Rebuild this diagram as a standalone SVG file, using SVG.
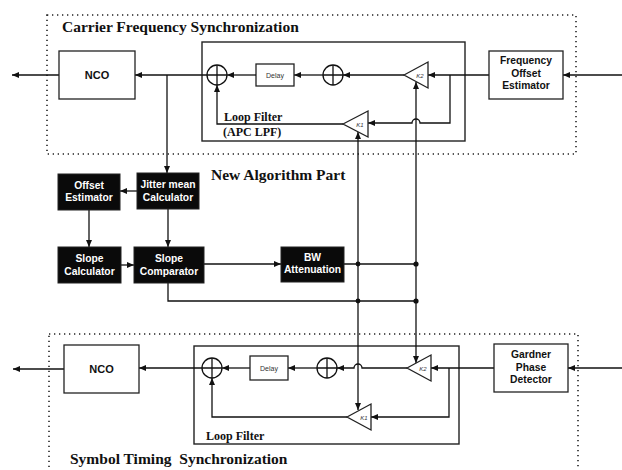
<svg xmlns="http://www.w3.org/2000/svg" width="622" height="470" viewBox="0 0 622 470">
<defs>
<marker id="ah" markerUnits="userSpaceOnUse" markerWidth="7" markerHeight="6" refX="7" refY="3" orient="auto-start-reverse">
<path d="M0,0 L7,3 L0,6 z" fill="#111"/>
</marker>
<style>
.ln{fill:none;stroke:#111;stroke-width:1.3}
.box{fill:#fff;stroke:#222;stroke-width:1.3}
.blk{fill:#0a0a0a;stroke:#222;stroke-width:1}
.dot{fill:none;stroke:#222;stroke-width:1.6;stroke-dasharray:1.3 3.7}
.inner{fill:none;stroke:#222;stroke-width:1.4}
.title{font-family:"Liberation Serif","Times New Roman",serif;font-weight:bold;font-size:15.5px;fill:#111}
.lf{font-family:"Liberation Serif","Times New Roman",serif;font-weight:bold;font-size:12px;fill:#111}
.t{font-family:"Liberation Sans",Arial,sans-serif;font-weight:bold;font-size:10.3px;fill:#111;text-anchor:middle}
.tw{font-family:"Liberation Sans",Arial,sans-serif;font-weight:bold;font-size:10.3px;fill:#fff;text-anchor:middle}
.nco{font-family:"Liberation Sans",Arial,sans-serif;font-weight:bold;font-size:11px;fill:#111;text-anchor:middle}
.sm{font-family:"Liberation Sans",Arial,sans-serif;font-size:7px;fill:#333;text-anchor:middle}
.k{font-family:"Liberation Sans",Arial,sans-serif;font-style:italic;font-size:6px;fill:#333;text-anchor:middle}
.adder{fill:#fff;stroke:#111;stroke-width:1.3}
.jd{fill:#111}
</style>
</defs>
<rect width="622" height="470" fill="#fff"/>

<!-- regions -->
<g id="carrier-region">
<rect class="dot" x="47" y="15" width="529" height="139"/>
<text class="title" x="62" y="32">Carrier Frequency Synchronization</text>
<rect class="inner" x="202" y="42" width="263" height="99"/>
<text class="lf" x="224" y="121">Loop Filter</text>
<text class="lf" x="223" y="136">(APC LPF)</text>
</g>
<g id="symbol-region">
<rect class="dot" x="49" y="334" width="529" height="150"/>
<text class="title" x="70" y="464" xml:space="preserve">Symbol Timing  Synchronization</text>
<rect class="inner" x="194" y="346" width="265" height="98"/>
<text class="lf" x="206" y="440">Loop Filter</text>
</g>
<g id="new-algorithm-label">
<text class="title" x="211" y="180">New Algorithm Part</text>
</g>

<!-- connectors -->
<g id="connectors">
<!-- top -->
<path class="ln" d="M59,75 L12,75" marker-end="url(#ah)"/>
<path class="ln" d="M207,75 L135,75" marker-end="url(#ah)"/>
<path class="ln" d="M167,75 L167,173" marker-end="url(#ah)"/>
<path class="ln" d="M256,75 L227,75" marker-end="url(#ah)"/>
<path class="ln" d="M323,75 L294,75" marker-end="url(#ah)"/>
<path class="ln" d="M404,75 L343,75" marker-end="url(#ah)"/>
<path class="ln" d="M489,75 L428,75" marker-end="url(#ah)"/>
<path class="ln" d="M622,75 L563,75" marker-end="url(#ah)"/>
<path class="ln" d="M450,75 L450,123 L420,123 A4,4 0 0 0 412,123 L368,123" marker-end="url(#ah)"/>
<path class="ln" d="M343,124 L217,124 L217,85" marker-end="url(#ah)"/>
<!-- shared verticals -->
<path class="ln" d="M358,132 L358,410" marker-start="url(#ah)" marker-end="url(#ah)"/>
<path class="ln" d="M416,82 L416,363" marker-start="url(#ah)" marker-end="url(#ah)"/>
<!-- new algorithm -->
<path class="ln" d="M137,191 L120,191" marker-end="url(#ah)"/>
<path class="ln" d="M89,210 L89,247" marker-end="url(#ah)"/>
<path class="ln" d="M168,209 L168,247" marker-end="url(#ah)"/>
<path class="ln" d="M121,265 L134,265" marker-end="url(#ah)"/>
<path class="ln" d="M204,264 L281,264" marker-end="url(#ah)"/>
<path class="ln" d="M344,264 L416,264"/>
<path class="ln" d="M168,283 L168,301 L416,301"/>
<circle class="jd" cx="358" cy="264" r="2.4"/>
<circle class="jd" cx="416" cy="264" r="2.6"/>
<circle class="jd" cx="358" cy="301" r="2.4"/>
<circle class="jd" cx="416" cy="301" r="2.6"/>
<!-- bottom -->
<path class="ln" d="M64,369 L13,369" marker-end="url(#ah)"/>
<path class="ln" d="M202,368 L139,368" marker-end="url(#ah)"/>
<path class="ln" d="M250,368 L222,368" marker-end="url(#ah)"/>
<path class="ln" d="M317,368 L288,368" marker-end="url(#ah)"/>
<path class="ln" d="M407,368 L362,368 A4,4 0 0 0 354,368 L337,368" marker-end="url(#ah)"/>
<path class="ln" d="M494,368 L431,368" marker-end="url(#ah)"/>
<path class="ln" d="M622,368 L568,368" marker-end="url(#ah)"/>
<path class="ln" d="M449,368 L449,417 L371,417" marker-end="url(#ah)"/>
<path class="ln" d="M347,417 L212,417 L212,378" marker-end="url(#ah)"/>
</g>

<!-- top nodes -->
<g id="nco-top"><rect class="box" x="59" y="51" width="76" height="48"/><text class="nco" x="97" y="79">NCO</text></g>
<g id="adder1-top"><circle class="adder" cx="217" cy="75" r="10"/><path class="ln" d="M207,75 H227 M217,65 V85"/></g>
<g id="delay-top"><rect class="box" x="256" y="64" width="38" height="22"/><text class="sm" x="275" y="78">Delay</text></g>
<g id="adder2-top"><circle class="adder" cx="333" cy="75" r="10"/><path class="ln" d="M323,75 H343 M333,65 V85"/></g>
<g id="k2-top"><path class="box" d="M404,75 L428,62 L428,88 Z"/><text class="k" x="420" y="78">K2</text></g>
<g id="k1-top"><path class="box" d="M343,124 L368,111 L368,137 Z"/><text class="k" x="360" y="127">K1</text></g>
<g id="freq-offset-estimator"><rect class="box" x="489" y="51" width="74" height="48"/>
<text class="t" x="526" y="64">Frequency</text><text class="t" x="526" y="77">Offset</text><text class="t" x="526" y="89">Estimator</text></g>

<!-- new algorithm nodes -->
<g id="offset-estimator"><rect class="blk" x="58" y="174" width="62" height="36"/>
<text class="tw" x="89" y="189">Offset</text><text class="tw" x="89" y="201">Estimator</text></g>
<g id="jitter-mean-calculator"><rect class="blk" x="137" y="173" width="62" height="36"/>
<text class="tw" x="168" y="188">Jitter mean</text><text class="tw" x="168" y="201">Calculator</text></g>
<g id="slope-calculator"><rect class="blk" x="58" y="247" width="63" height="36"/>
<text class="tw" x="89.5" y="262">Slope</text><text class="tw" x="89.5" y="275">Calculator</text></g>
<g id="slope-comparator"><rect class="blk" x="134" y="247" width="70" height="36"/>
<text class="tw" x="169" y="262">Slope</text><text class="tw" x="169" y="275">Comparator</text></g>
<g id="bw-attenuation"><rect class="blk" x="281" y="247" width="63" height="35"/>
<text class="tw" x="312.5" y="261">BW</text><text class="tw" x="312.5" y="273">Attenuation</text></g>

<!-- bottom nodes -->
<g id="nco-bottom"><rect class="box" x="64" y="345" width="75" height="48"/><text class="nco" x="101.5" y="373">NCO</text></g>
<g id="adder1-bottom"><circle class="adder" cx="212" cy="368" r="10"/><path class="ln" d="M202,368 H222 M212,358 V378"/></g>
<g id="delay-bottom"><rect class="box" x="250" y="356" width="38" height="24"/><text class="sm" x="269" y="370.5">Delay</text></g>
<g id="adder2-bottom"><circle class="adder" cx="327" cy="368" r="10"/><path class="ln" d="M317,368 H337 M327,358 V378"/></g>
<g id="k2-bottom"><path class="box" d="M407,368 L431,355 L431,381 Z"/><text class="k" x="423" y="371">K2</text></g>
<g id="k1-bottom"><path class="box" d="M347,417 L371,404 L371,430 Z"/><text class="k" x="364" y="420">K1</text></g>
<g id="gardner-phase-detector"><rect class="box" x="494" y="344" width="74" height="48"/>
<text class="t" x="531" y="358">Gardner</text><text class="t" x="531" y="370.5">Phase</text><text class="t" x="531" y="383">Detector</text></g>
</svg>
